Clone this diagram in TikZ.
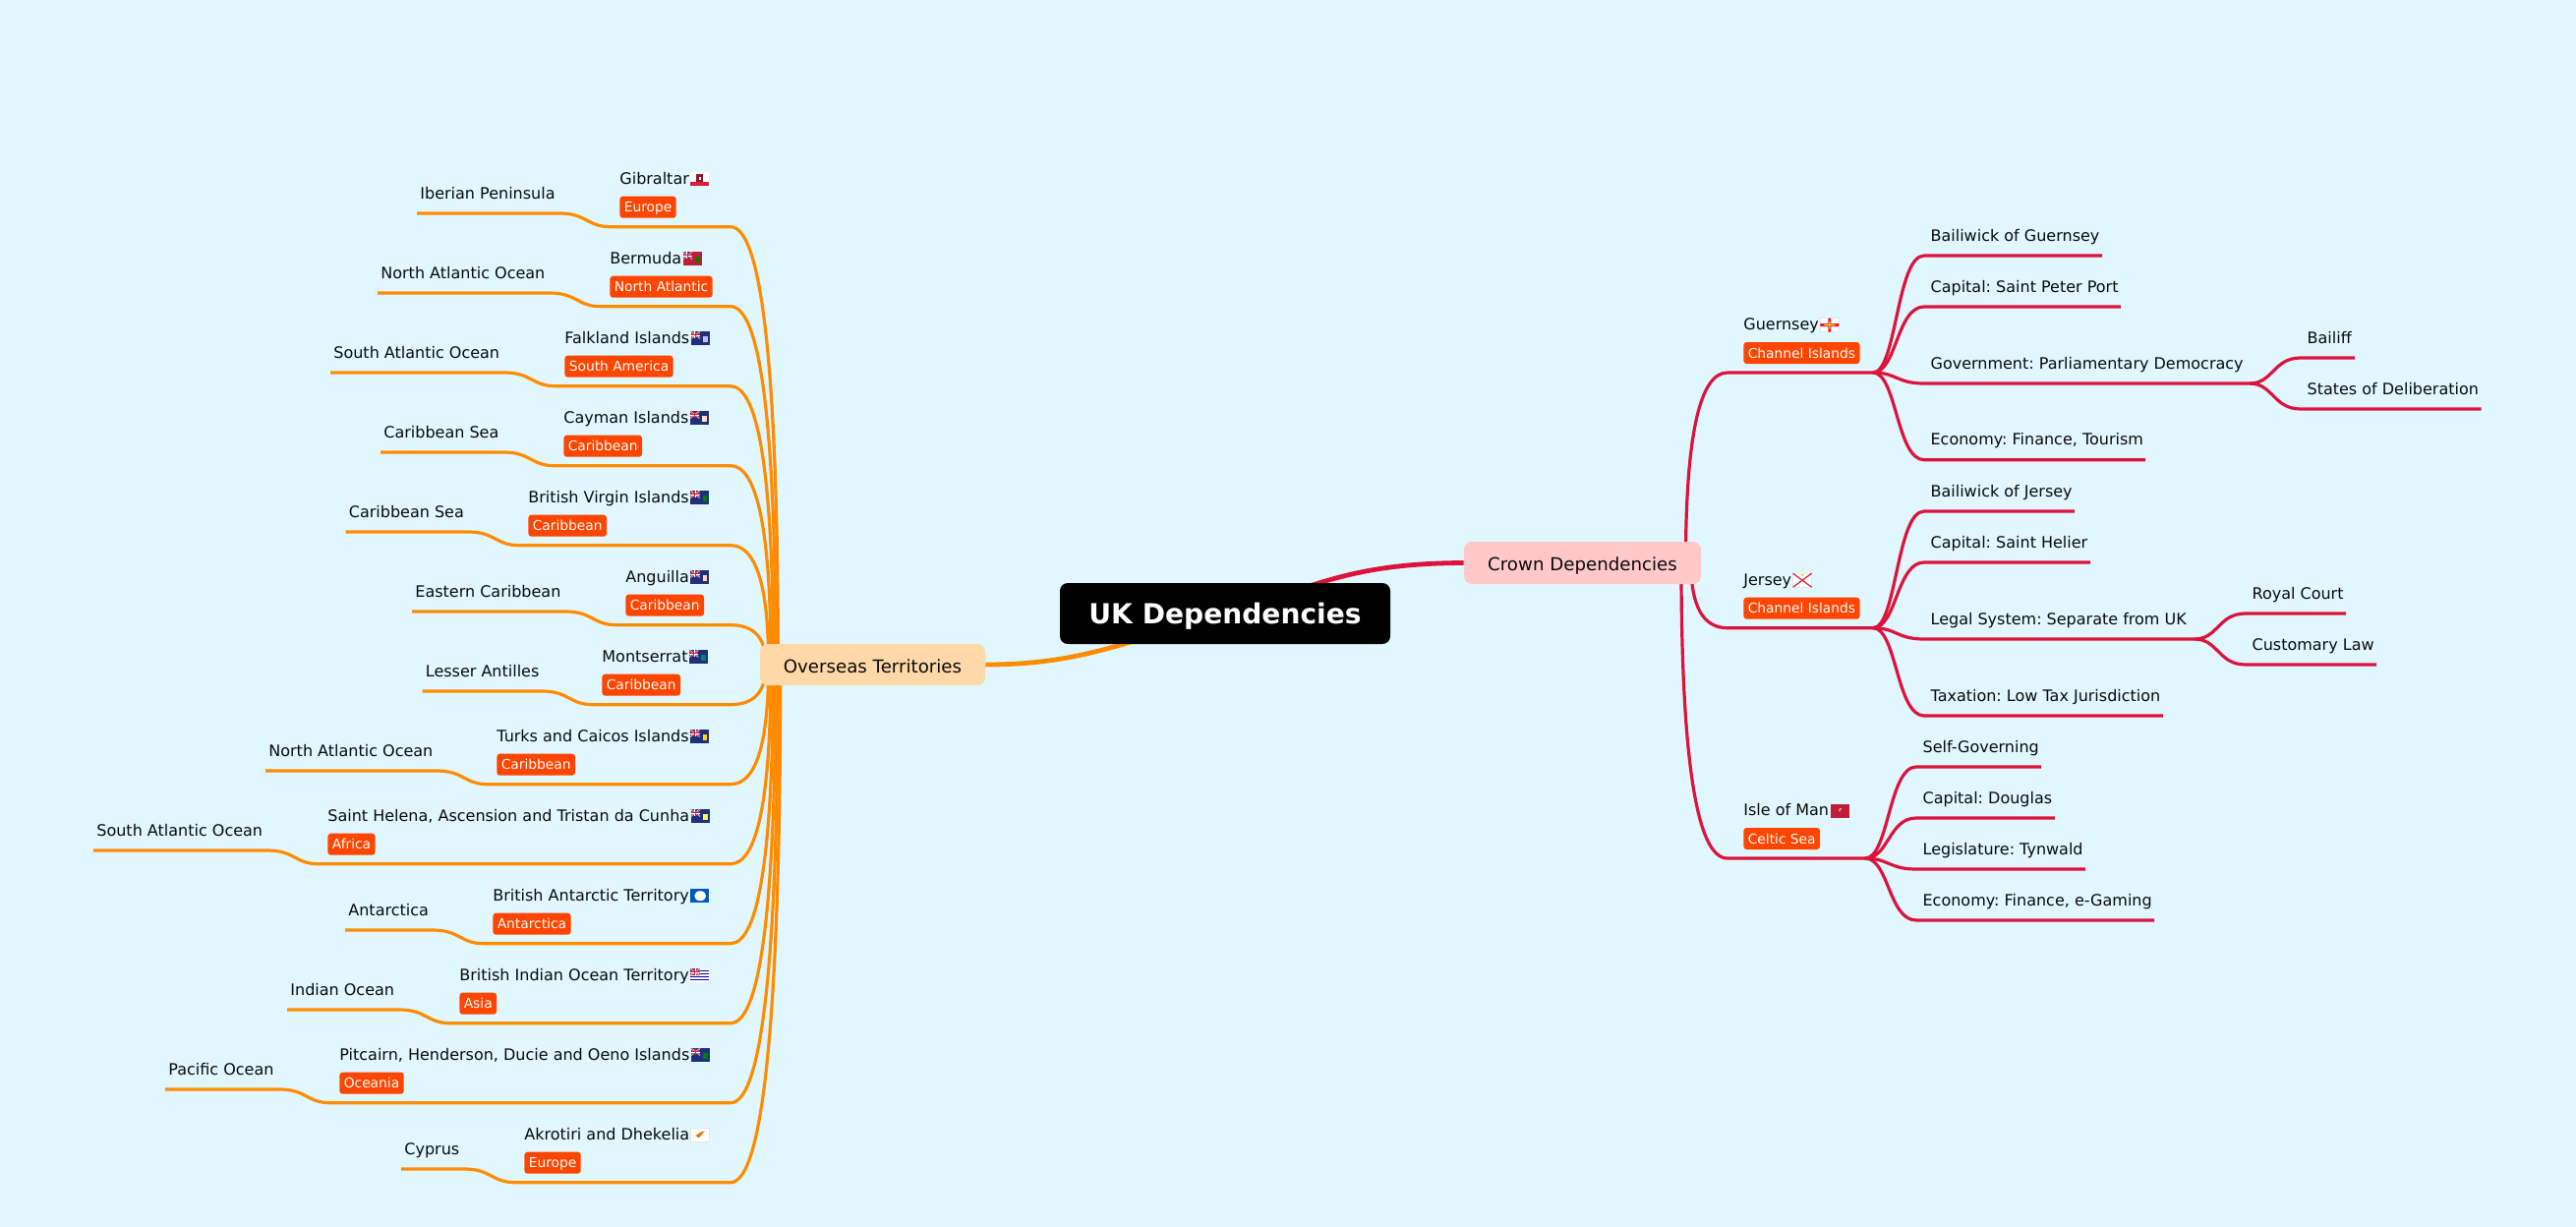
\documentclass[tikz,border=0pt]{standalone}
\usepackage{fontspec}
\setmainfont{DejaVu Sans}
\frenchspacing
\usetikzlibrary{calc,backgrounds}
\definecolor{bgc}{HTML}{E0F7FF}
\definecolor{ovc}{HTML}{FF8C00}
\definecolor{crc}{HTML}{DC143C}
\definecolor{badgec}{HTML}{FF4500}
\definecolor{ovfill}{HTML}{FFD8A8}
\definecolor{crfill}{HTML}{FFC9C9}
\definecolor{inkc}{HTML}{0A0A0A}
\definecolor{ukb}{HTML}{1F2F7A}
\definecolor{ukr}{HTML}{D8203C}
\tikzset{
  rootbox/.style={fill=black,text=white,rounded corners=4pt,minimum width=168pt,minimum height=31pt,inner sep=0pt,text height=10.5pt,text depth=0pt,font=\fontsize{14.05}{16}\bfseries\selectfont},
  topbox/.style={rounded corners=4pt,inner sep=0pt,text=inkc,text height=8pt,text depth=0pt,font=\fontsize{9.1}{11}\selectfont},
  maintext/.style={anchor=base west,inner sep=0pt,text=inkc,font=\fontsize{8}{10}\selectfont},
  badge/.style={anchor=west,fill=badgec,text=white,rounded corners=1.5pt,inner xsep=2.2pt,inner ysep=0pt,minimum height=11pt,text height=6.1pt,text depth=1pt,font=\fontsize{6.9}{8}\selectfont},
  ovline/.style={draw=ovc,line width=1.6pt,line join=round},
  crline/.style={draw=crc,line width=1.6pt,line join=round},
  rootline/.style={line width=2.4pt},
}
% ---------- flags ----------
\newcommand{\cantonUK}{%
  \begin{scope}
    \clip (0,-7) rectangle (9.5,0);
    \fill[ukb] (0,-7) rectangle (9.5,0);
    \draw[white,line width=.7pt] (0,-7)--(9.5,0) (0,0)--(9.5,-7);
    \draw[ukr,line width=.3pt] (0,-7)--(9.5,0) (0,0)--(9.5,-7);
    \draw[white,line width=.9pt] (4.75,-7)--(4.75,0) (0,-3.5)--(9.5,-3.5);
    \draw[ukr,line width=.5pt] (4.75,-7)--(4.75,0) (0,-3.5)--(9.5,-3.5);
  \end{scope}}
\newcommand{\flagEns}[2]{%
  \fill[#1] (0,-7) rectangle (19,7);
  \cantonUK
  \fill[#2] (12.5,-2.5) rectangle (17,3.5);}
\newcommand{\flagGib}{%
  \fill[white] (0,-7) rectangle (19,7);
  \fill[ukr] (0,2.5) rectangle (19,7);
  \fill[ukr!70!black] (6,-5) rectangle (13,3);
  \fill[white] (8.5,-2) rectangle (10.5,1);}
\newcommand{\flagBAT}{%
  \fill[blue!55!cyan!75!black] (0,-7) rectangle (19,7);
  \fill[white] (10,0) ellipse [x radius=6,y radius=5];}
\newcommand{\flagBIOT}{%
  \fill[white] (0,-7) rectangle (19,7);
  \foreach \q in {-5,-2,1,4}{\draw[blue!70!black,line width=.6pt] (9.5,\q)--(19,\q);}
  \draw[blue!70!black,line width=.6pt] (0,1.5)--(9.5,1.5) (0,4.5)--(9.5,4.5);
  \cantonUK}
\newcommand{\flagCyp}{%
  \fill[white,draw=black!10,line width=.2pt] (0,-7) rectangle (19,7);
  \fill[orange!90!black] (5,1) -- (9,-2) -- (14,-4) -- (11,0) -- (8,3) -- cycle;}
\newcommand{\flagGue}{%
  \fill[white,draw=black!10,line width=.2pt] (0,-7) rectangle (19,7);
  \fill[ukr] (0,-1.5) rectangle (19,1.5) (8,-7) rectangle (11,7);
  \fill[yellow!90!orange] (4,-.6) rectangle (15,.6) (9,-4) rectangle (10,4);}
\newcommand{\flagJer}{%
  \fill[white,draw=black!10,line width=.2pt] (0,-7) rectangle (19,7);
  \draw[ukr,line width=.6pt] (0,-7)--(19,7) (0,7)--(19,-7);
  \fill[yellow!80!orange] (8.5,-6.5) rectangle (10.5,-4);}
\newcommand{\flagMan}{%
  \fill[ukr!90!black] (0,-7) rectangle (19,7);
  \draw[white,line width=.4pt] (9.5,-2)--(9.5,1) (9.5,-1)--(11.5,-2);}
\newcommand{\flagat}[2]{\begin{scope}[shift={($(#1.base east)+(1,-5)$)}]#2\end{scope}}
% ---------- left rows ----------
\newcommand{\ovrow}[8]{%
  % id, line y, text x, name, badge, sub, sub left, flag
  \pgfmathsetmacro\dd{abs(#2-676)}
  \pgfmathsetmacro\xh{778+0.03*\dd}
  \coordinate (#1-s) at (\xh,676);
  \coordinate (#1-q) at (\xh,#2);
  \coordinate (#1-e) at (743,#2);
  \coordinate (#1-j) at (#3-9,#2);
  \coordinate (#1-c) at (#3-33,#2);
  \coordinate (#1-d) at (#3-33,#2-13.7);
  \coordinate (#1-k) at (#3-61,#2-13.7);
  \coordinate (#1-l) at (#7,#2-13.7);
  \draw[ovline] (#1-s) .. controls ($(#1-s)!2/3!(#1-q)$) and ($(#1-e)!2/3!(#1-q)$) .. (#1-e)
     -- (#1-j) .. controls (#1-c) and (#1-d) .. (#1-k) -- (#1-l);
  \node[maintext] (#1-t) at (#3,#2-43.5) {#4};
  \node[badge] (#1-b) at (#3,#2-20) {#5};
  \node[maintext] (#1-u) at (#7+3,#2-28.7) {#6};
  \flagat{#1-t}{#8}}
% ---------- right side ----------
\newcommand{\crmain}[6]{%
  % id, line y, hub x, name, badge, flag
  \pgfmathsetmacro\dd{abs(#2-572.5)}
  \pgfmathsetmacro\xh{1722.6-0.042*\dd}
  \coordinate (#1-s) at (\xh,572.5);
  \coordinate (#1-q) at (\xh,#2);
  \coordinate (#1-e) at (1757,#2);
  \coordinate (#1) at (#3,#2);
  \draw[crline] (#1-s) .. controls ($(#1-s)!2/3!(#1-q)$) and ($(#1-e)!2/3!(#1-q)$) .. (#1-e) -- (#1);
  \node[maintext] (#1-t) at (1773,#2-43.5) {#4};
  \node[badge] (#1-b) at (1773,#2-20) {#5};
  \flagat{#1-t}{#6}}
\newcommand{\crsub}[5]{%
  % id, parent hub, line y, end x, text
  \coordinate (#1-a) at ([xshift=12pt]#2);
  \coordinate (#1-c) at ([xshift=12pt]#2 |- 0,#3);
  \coordinate (#1-p) at ([xshift=26pt]#2 |- 0,#3);
  \coordinate (#1-f) at (#4,#3);
  \draw[crline] (#2) .. controls (#1-a) and (#1-c) .. (#1-p) -- (#1-f);
  \node[maintext] (#1-t) at ([xshift=29.1pt]#2 |- 0,#3-15) {#5};}
\begin{document}
\begin{tikzpicture}[x=0.5pt,y=-0.5pt]
\useasboundingbox (0,0) rectangle (2620,1248);
\begin{scope}[on background layer]
  \fill[bgc] (0,0) rectangle (2620,1248);
\end{scope}
% left side
\ovrow{gib}{230.7}{630}{Gibraltar}{Europe}{Iberian Peninsula}{424}{\flagGib}
\ovrow{ber}{311.7}{620}{Bermuda}{North Atlantic}{North Atlantic Ocean}{384}{\flagEns{ukr!90!black}{green!50!black}}
\ovrow{fal}{392.7}{574}{Falkland Islands}{South America}{South Atlantic Ocean}{336}{\flagEns{ukb}{white!75!blue}}
\ovrow{cay}{473.7}{573}{Cayman Islands}{Caribbean}{Caribbean Sea}{387}{\flagEns{ukb}{white!75!orange}}
\ovrow{bvi}{554.7}{537}{British Virgin Islands}{Caribbean}{Caribbean Sea}{351.5}{\flagEns{ukb}{green!50!black}}
\ovrow{ang}{635.7}{636}{Anguilla}{Caribbean}{Eastern Caribbean}{419}{\flagEns{ukb}{white!70!orange}}
\ovrow{mon}{716.7}{612}{Montserrat}{Caribbean}{Lesser Antilles}{429.5}{\flagEns{ukb}{teal}}
\ovrow{tur}{797.7}{505}{Turks and Caicos Islands}{Caribbean}{North Atlantic Ocean}{270}{\flagEns{ukb}{yellow!80!orange}}
\ovrow{hel}{878.7}{333}{Saint Helena, Ascension and Tristan da Cunha}{Africa}{South Atlantic Ocean}{95}{\flagEns{ukb}{yellow!70!white}}
\ovrow{bat}{959.7}{501}{British Antarctic Territory}{Antarctica}{Antarctica}{351}{\flagBAT}
\ovrow{bio}{1040.7}{467}{British Indian Ocean Territory}{Asia}{Indian Ocean}{292}{\flagBIOT}
\ovrow{pit}{1121.7}{345}{Pitcairn, Henderson, Ducie and Oeno Islands}{Oceania}{Pacific Ocean}{168}{\flagEns{ukb}{green!50!black}}
\ovrow{akr}{1202.7}{533}{Akrotiri and Dhekelia}{Europe}{Cyprus}{408}{\flagCyp}
% right side
\crmain{gue}{379}{1905}{Guernsey}{Channel Islands}{\flagGue}
\crmain{jer}{638.7}{1905}{Jersey}{Channel Islands}{\flagJer}
\crmain{man}{873}{1897}{Isle of Man}{Celtic Sea}{\flagMan}
\crsub{g1}{gue}{260}{2138}{Bailiwick of Guernsey}
\crsub{g2}{gue}{312}{2157}{Capital: Saint Peter Port}
\crsub{g3}{gue}{390}{2289}{Government: Parliamentary Democracy}
\crsub{g4}{gue}{467.7}{2182}{Economy: Finance, Tourism}
\coordinate (g3h) at (2288,390);
\crsub{g5}{g3h}{364}{2395}{Bailiff}
\crsub{g6}{g3h}{416}{2523.6}{States of Deliberation}
\crsub{j1}{jer}{520}{2110}{Bailiwick of Jersey}
\crsub{j2}{jer}{572}{2126}{Capital: Saint Helier}
\crsub{j3}{jer}{650}{2232}{Legal System: Separate from UK}
\crsub{j4}{jer}{728}{2200}{Taxation: Low Tax Jurisdiction}
\coordinate (j3h) at (2232,650);
\crsub{j5}{j3h}{624}{2386}{Royal Court}
\crsub{j6}{j3h}{676}{2417}{Customary Law}
\crsub{m1}{man}{780}{2076}{Self-Governing}
\crsub{m2}{man}{832}{2090}{Capital: Douglas}
\crsub{m3}{man}{884}{2121}{Legislature: Tynwald}
\crsub{m4}{man}{936}{2191}{Economy: Finance, e-Gaming}
% central boxes
\node[rootbox] (root) at (1246,624) {UK Dependencies};
\node[topbox,fill=ovfill,minimum width=114.5pt,minimum height=21pt] (over) at (887.5,676) {Overseas Territories};
\node[topbox,fill=crfill,minimum width=120.5pt,minimum height=21.5pt] (crown) at (1609.5,572.5) {Crown Dependencies};
\begin{scope}[on background layer]
  \draw[ovc,rootline] (root.center) .. controls (1146,652) and (1100,676) .. (over.east);
  \draw[crc,rootline] (root.center) .. controls (1335,598) and (1370,573) .. (crown.west);
\end{scope}
\end{tikzpicture}
\end{document}
